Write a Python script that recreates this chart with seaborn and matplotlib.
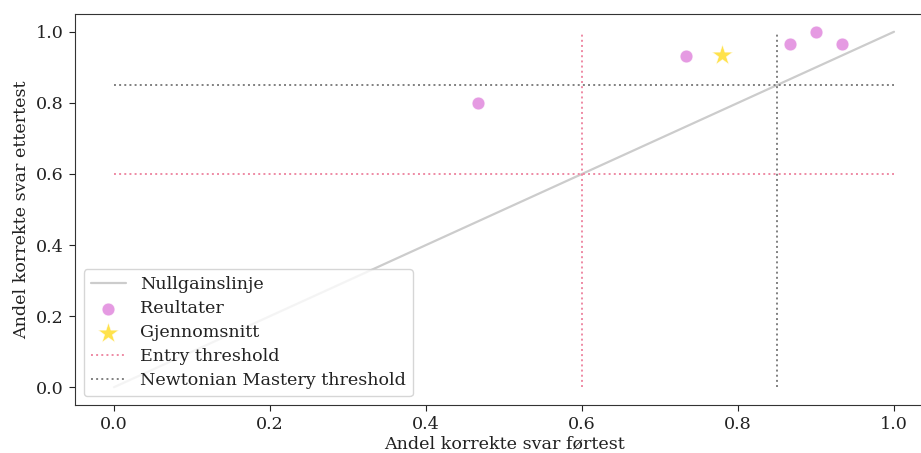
import matplotlib
matplotlib.use("Agg")
import matplotlib.pyplot as plt
import seaborn as sns
import numpy as np
import pandas as pd

# Share of correct answers, pre-test vs post-test
pretest = [0.467, 0.733, 0.867, 0.900, 0.933]
posttest = [0.800, 0.933, 0.967, 1.000, 0.967]

# Reference line where post-test equals pre-test
null_x = [0.0, 1.0]
null_y = [0.0, 1.0]

entry_threshold = 0.6
mastery_threshold = 0.85

sns.set_style("ticks")
plt.rcParams["font.family"] = ["DejaVu Serif"]
plt.rcParams["font.size"] = 12.6
plt.rcParams["xtick.major.size"] = 4.5
plt.rcParams["ytick.major.size"] = 4.5
plt.rcParams["xtick.color"] = "#222222"
plt.rcParams["ytick.color"] = "#222222"
plt.rcParams["text.color"] = "#222222"
plt.rcParams["axes.labelcolor"] = "#222222"

fig = plt.figure(figsize=(9.21, 4.53), dpi=100)
ax = fig.add_axes([75 / 921, 48 / 453, 858 / 921, 391 / 453])

results = pd.DataFrame({"pre": pretest, "post": posttest})
mean_df = pd.DataFrame({"pre": [np.mean(pretest)], "post": [np.mean(posttest)]})

sns.lineplot(x=null_x, y=null_y, ax=ax, color="gray", alpha=0.4,
             linewidth=1.6, label="Nullgainslinje")
sns.scatterplot(data=results, x="pre", y="post", ax=ax, color="orchid",
                alpha=0.7, s=85, edgecolor="white", linewidth=0.6,
                label="Reultater")
sns.scatterplot(data=mean_df, x="pre", y="post", ax=ax, color="gold",
                alpha=0.7, s=250, marker="*", edgecolor="white",
                linewidth=0.6, label="Gjennomsnitt")

pink = "#EE8AA4"
ax.hlines(entry_threshold, 0, 1, colors=pink, linestyles=":", linewidth=1.4,
          label="Entry threshold")
ax.vlines(entry_threshold, 0, 1, colors=pink, linestyles=":", linewidth=1.4)
ax.hlines(mastery_threshold, 0, 1, colors="gray", linestyles=":",
          linewidth=1.4, label="Newtonian Mastery threshold")
ax.vlines(mastery_threshold, 0, 1, colors="gray", linestyles=":",
          linewidth=1.4)

ax.set_xlim(-0.05, 1.05)
ax.set_ylim(-0.05, 1.05)
ax.set_xticks(np.arange(0, 1.01, 0.2))
ax.set_yticks(np.arange(0, 1.01, 0.2))
ax.set_xlabel("Andel korrekte svar førtest", labelpad=1.5)
ax.set_ylabel("Andel korrekte svar ettertest")
for s in ax.spines.values():
    s.set_visible(True)
    s.set_color("#333333")
ax.spines["right"].set_visible(False)

ax.legend(loc="lower left", frameon=True, labelspacing=0.4)

fig.savefig("out.png", dpi=100)
